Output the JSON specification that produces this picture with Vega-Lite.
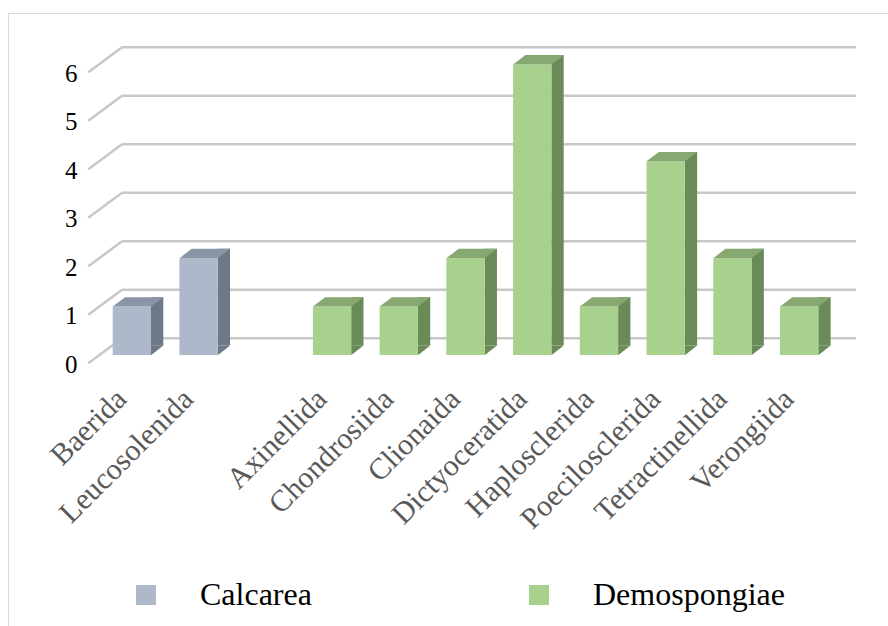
{
  "$schema": "https://vega.github.io/schema/vega-lite/v6.json",
  "width": 880,
  "height": 613,
  "autosize": {"type": "none"},
  "padding": {"left": 8, "top": 13, "right": 0, "bottom": 0},
  "background": "white",
  "config": {"view": {"stroke": "#D9D9D9", "strokeWidth": 1}, "font": "Liberation Serif"},
  "datasets": {
    "bars": [
      {"order": "Baerida", "class": "Calcarea", "count": 1},
      {"order": "Leucosolenida", "class": "Calcarea", "count": 2},
      {"order": "Axinellida", "class": "Demospongiae", "count": 1},
      {"order": "Chondrosiida", "class": "Demospongiae", "count": 1},
      {"order": "Clionaida", "class": "Demospongiae", "count": 2},
      {"order": "Dictyoceratida", "class": "Demospongiae", "count": 6},
      {"order": "Haplosclerida", "class": "Demospongiae", "count": 1},
      {"order": "Poecilosclerida", "class": "Demospongiae", "count": 4},
      {"order": "Tetractinellida", "class": "Demospongiae", "count": 2},
      {"order": "Verongiida", "class": "Demospongiae", "count": 1}
    ],
    "ticks": [{"v": 0}, {"v": 1}, {"v": 2}, {"v": 3}, {"v": 4}, {"v": 5}, {"v": 6}]
  },
  "layer": [
    {
      "data": {"name": "ticks"},
      "layer": [
        {
          "mark": {"type": "rule", "color": "#C8C8C8", "strokeWidth": 2.5, "xOffset": -9.85, "x2Offset": 56.85},
          "encoding": {
            "x": {
              "datum": "Baerida", "type": "nominal",
              "axis": {
                "orient": "bottom", "offset": -232, "title": null, "ticks": false, "domain": false, "grid": false,
                "labelAngle": -45, "labelAlign": "right", "labelBaseline": "middle", "labelPadding": 0,
                "labelOffset": -10, "labelFontSize": 30, "labelFont": "Liberation Serif", "labelColor": "#595959",
                "labelOverlap": false, "labelLimit": 400, "labelBound": false, "labelFlush": false
              }
            },
            "x2": {"datum": "Verongiida"},
            "y": {
              "field": "v", "type": "quantitative",
              "scale": {"domain": [0, 6], "range": [325.3, 34.3], "nice": false, "zero": false},
              "axis": {
                "orient": "left", "offset": -69, "ticks": false, "domain": false, "grid": false,
                "labelPadding": 0, "labelOffset": 26, "labelFontSize": 25, "labelColor": "#000000",
                "labelFont": "Liberation Serif", "values": [0, 1, 2, 3, 4, 5, 6], "format": "d", "title": null,
                "labelAlign": "right", "labelBaseline": "middle"
              }
            }
          }
        },
        {
          "mark": {"type": "rule", "color": "#C8C8C8", "strokeWidth": 2.5, "xOffset": -43.55, "x2Offset": -9.85, "yOffset": 25, "y2Offset": 0},
          "encoding": {
            "x": {
              "datum": "Baerida", "type": "nominal",
              "axis": {
                "orient": "bottom", "offset": -232, "title": null, "ticks": false, "domain": false, "grid": false,
                "labelAngle": -45, "labelAlign": "right", "labelBaseline": "middle", "labelPadding": 0,
                "labelOffset": -10, "labelFontSize": 30, "labelFont": "Liberation Serif", "labelColor": "#595959",
                "labelOverlap": false, "labelLimit": 400, "labelBound": false, "labelFlush": false
              }
            },
            "x2": {"datum": "Baerida"},
            "y": {
              "field": "v", "type": "quantitative",
              "axis": {
                "orient": "left", "offset": -69, "ticks": false, "domain": false, "grid": false,
                "labelPadding": 0, "labelOffset": 26, "labelFontSize": 25, "labelColor": "#000000",
                "labelFont": "Liberation Serif", "values": [0, 1, 2, 3, 4, 5, 6], "format": "d", "title": null,
                "labelAlign": "right", "labelBaseline": "middle"
              }
            },
            "y2": {"field": "v"}
          }
        }
      ]
    },
    {
      "data": {"name": "bars"},
      "encoding": {
        "x": {
          "field": "order", "type": "nominal",
          "scale": {
            "type": "band",
            "domain": ["Baerida", "Leucosolenida", " ", "Axinellida", "Chondrosiida", "Clionaida", "Dictyoceratida", "Haplosclerida", "Poecilosclerida", "Tetractinellida", "Verongiida"],
            "range": [104.7, 810.3], "paddingInner": 0.426, "paddingOuter": 0
          },
          "axis": {
            "orient": "bottom", "offset": -232, "title": null, "ticks": false, "domain": false, "grid": false,
            "labelAngle": -45, "labelAlign": "right", "labelBaseline": "middle", "labelPadding": 0,
            "labelOffset": -10, "labelFontSize": 30, "labelFont": "Liberation Serif", "labelColor": "#595959",
            "labelOverlap": false, "labelLimit": 400, "labelBound": false, "labelFlush": false
          }
        }
      },
      "layer": [
        {
          "mark": {"type": "bar", "width": 12.3, "xOffset": 25.3, "yOffset": -9.4, "y2Offset": -9.4},
          "encoding": {
            "y": {"field": "count", "type": "quantitative", "scale": {"domain": [0, 6], "range": [342, 51.5], "nice": false}, "axis": null},
            "y2": {"datum": 0},
            "color": {"condition": {"test": "datum['class'] === 'Calcarea'", "value": "#6E7887"}, "value": "#6A8B57"}
          }
        },
        {
          "mark": {"type": "point", "shape": "M 0.598 0.01 L 0.598 -0.30 L 0.985 -0.30 Z", "size": 4096, "filled": true, "opacity": 1, "strokeWidth": 0},
          "encoding": {
            "y": {"datum": 0, "type": "quantitative", "axis": null},
            "color": {"condition": {"test": "datum['class'] === 'Calcarea'", "value": "#6E7887"}, "value": "#6A8B57"}
          }
        },
        {
          "mark": {"type": "bar"},
          "encoding": {
            "y": {"field": "count", "type": "quantitative", "axis": null},
            "y2": {"datum": 0},
            "color": {
              "field": "class", "type": "nominal",
              "scale": {"domain": ["Calcarea", "Demospongiae"], "range": ["#ADB9CA", "#A9D18E"]},
              "legend": {
                "orient": "none", "legendX": 122, "legendY": 566, "direction": "horizontal", "title": null,
                "symbolType": "square", "symbolSize": 400, "symbolStrokeWidth": 0,
                "labelFontSize": 32, "labelFont": "Liberation Serif", "labelColor": "#000000",
                "labelOffset": 38, "columnPadding": 211, "columns": 2, "labelLimit": 400
              }
            }
          }
        },
        {
          "mark": {"type": "point", "shape": "M -0.598 0 L 0.598 0 L 0.985 -0.294 L -0.214 -0.294 Z", "size": 4096, "filled": true, "opacity": 1, "strokeWidth": 0},
          "encoding": {
            "y": {"field": "count", "type": "quantitative", "axis": null},
            "color": {"condition": {"test": "datum['class'] === 'Calcarea'", "value": "#8A95A5"}, "value": "#88A872"}
          }
        }
      ]
    }
  ],
  "resolve": {"scale": {"y": "independent"}}
}
